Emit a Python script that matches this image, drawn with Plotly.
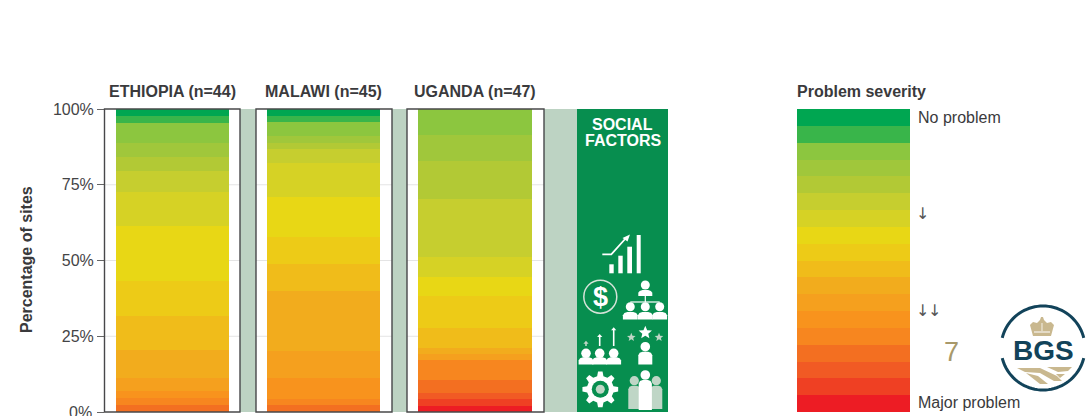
'''
    Stacked severity bars for social factors, with the severity scale and BGS logo.
'''

import math
import plotly.graph_objects as go

# Severity levels, from "No problem" down to "Major problem"
severity_colors = [
    "#00A651", "#39B54A", "#8CC63F", "#A0C73B", "#B2C935", "#C6CE2F",
    "#D6D225", "#E8D715", "#EDCB17", "#F0BC1A", "#F2AC1D", "#F5A01E",
    "#F8931D", "#F7861F", "#F36F21", "#F15A24", "#EF4023", "#ED1C24",
]

# Number of sites per severity level
ethiopia_counts = [1, 1, 3, 2, 2, 3, 5, 8, 5, 5, 4, 2, 1, 1, 1, 0, 0, 0]
malawi_counts = [1, 1, 2, 1, 1, 2, 5, 6, 4, 4, 9, 4, 3, 1, 1, 0, 0, 0]
uganda_counts = [0, 0, 4, 4, 6, 9, 3, 3, 5, 3, 1, 1, 0, 3, 2, 1, 1, 1]
scale_counts = [1] * 18

country_labels = ["ETHIOPIA (n=44)", "MALAWI (n=45)", "UGANDA (n=47)"]
y_ticks = [0, 25, 50, 75, 100]
y_tick_labels = ["0%", "25%", "50%", "75%", "100%"]

W, H = 1090, 416
TOP, BOTTOM = 109, 412
FONT = "Liberation Sans"
TEXT = "#3a3a3c"
SAGE = "#BDD3C3"
GREEN = "#078E4F"
PALE = "#BFD6C6"
NAVY = "#12435A"
TAN = "#C9B88F"


def px(x):
    return x / W


def py(y):
    return 1 - y / H


def path_of(points, close=True):
    '''
        Builds an SVG path in paper coordinates from points given in pixels.
    '''
    d = "M" + " L".join(f"{px(x):.5f},{py(y):.5f}" for x, y in points)
    return d + (" Z" if close else "")


def polygon(points, color):
    return dict(type="path", xref="paper", yref="paper", path=path_of(points),
                fillcolor=color, line_width=0, layer="above")


def stroke(points, color, width):
    return dict(type="path", xref="paper", yref="paper", path=path_of(points, False),
                line=dict(color=color, width=width), layer="above")


def circle(cx, cy, r, fill="rgba(0,0,0,0)", line_color=None, line_width=0):
    return dict(type="circle", xref="paper", yref="paper",
                x0=px(cx - r), x1=px(cx + r), y0=py(cy + r), y1=py(cy - r),
                fillcolor=fill, line=dict(color=line_color or fill, width=line_width),
                layer="above")


def rect(x0, x1, y0, y1, fill, layer="below", line=None):
    return dict(type="rect", xref="paper", yref="paper",
                x0=px(x0), x1=px(x1), y0=py(y1), y1=py(y0),
                fillcolor=fill, line=line or dict(width=0), layer=layer)


def person(cx, head_y, head_r, body_top, body_bottom, half_w, color="white"):
    '''
        A head and a round-shouldered body.
    '''
    shoulder = body_top + min(3.5, (body_bottom - body_top) * 0.45)
    body = [(cx - half_w, body_bottom), (cx - half_w, shoulder),
            (cx - half_w * 0.8, body_top + 1), (cx - half_w * 0.4, body_top),
            (cx + half_w * 0.4, body_top), (cx + half_w * 0.8, body_top + 1),
            (cx + half_w, shoulder), (cx + half_w, body_bottom)]
    return [circle(cx, head_y, head_r, color), polygon(body, color)]


def star(cx, cy, r, color):
    points = []
    for i in range(10):
        radius = r if i % 2 == 0 else r * 0.45
        angle = -math.pi / 2 + i * math.pi / 5
        points.append((cx + radius * math.cos(angle), cy + radius * math.sin(angle)))
    return polygon(points, color)


def gear(cx, cy, outer, inner, teeth=8):
    points = []
    for i in range(teeth):
        mid = 2 * math.pi * i / teeth - math.pi / 2
        step = 2 * math.pi / teeth
        for offset, radius in ((-0.30, inner), (-0.16, outer), (0.16, outer), (0.30, inner)):
            angle = mid + offset * step
            points.append((cx + radius * math.cos(angle), cy + radius * math.sin(angle)))
    return polygon(points, "white")


def arc(cx, cy, r, start, end, steps=40):
    '''
        Points along a circle, angles in degrees, counter-clockwise on screen.
    '''
    result = []
    for i in range(steps + 1):
        angle = math.radians(start + (end - start) * i / steps)
        result.append((cx + r * math.cos(angle), cy - r * math.sin(angle)))
    return result


def arrow_up(x, y0, y1, color="white"):
    return [stroke([(x, y0), (x, y1 + 2)], color, 1.6),
            polygon([(x - 2.6, y1 + 3), (x, y1), (x + 2.6, y1 + 3)], color)]


def icon_shapes():
    shapes = []
    # Growth chart
    for x0, x1, top in ((609.3, 613.7, 264.3), (618.3, 622.7, 255.7),
                        (627.3, 632, 246.7), (636.7, 640.7, 235)):
        shapes.append(rect(x0, x1, top, 273.3, "white", "above"))
    shapes.append(stroke([(602.3, 254.3), (611.3, 254.3), (626, 238)], "white", 1.8))
    shapes.append(polygon([(622.5, 238), (630, 234.5), (627.5, 241.5)], "white"))
    # Dollar
    shapes.append(circle(600.3, 296.7, 16.5, line_color="#D5E3D8", line_width=1.5))
    # Organisation chart
    shapes += person(645.3, 285, 4.5, 290, 296, 7)
    shapes.append(stroke([(645.3, 296), (645.3, 302)], "white", 1.2))
    shapes.append(stroke([(630.3, 302), (659.7, 302)], "white", 1.2))
    for x in (630.3, 645.3, 659.7):
        shapes += person(x, 306.7, 4.5, 312, 319.4, 7.4)
    # Rising people
    for x, top in ((586, 340.7), (599.7, 334), (613.7, 327.3)):
        shapes += person(x, 353.3, 4.8, 357.3, 364.5, 7.4)
        shapes += arrow_up(x, 346, top, "white" if x > 590 else PALE)
    # Star person
    shapes += person(645.3, 346.7, 4.8, 351.7, 364.5, 7)
    shapes.append(star(631.3, 337.3, 4.5, PALE))
    shapes.append(star(645.3, 332.7, 7, "white"))
    shapes.append(star(659, 337.3, 4.5, PALE))
    # Gear
    shapes.append(gear(600.3, 389.3, 18, 13.5))
    shapes.append(circle(600.3, 389.3, 8.5, GREEN))
    shapes.append(circle(600.3, 389.3, 4.5, PALE))
    # Group
    for x in (634.3, 656.3):
        shapes += person(x, 380.7, 4.6, 385.7, 409, 6, PALE)
    shapes += person(645.3, 375, 4.8, 380, 410, 6.6)
    return shapes


def logo_shapes():
    cx, cy, r = 1043, 348, 42
    shapes = [stroke(arc(cx, cy, r, 14, 166), NAVY, 3),
              stroke(arc(cx, cy, r, 194, 346), NAVY, 3)]
    # Crown
    shapes.append(polygon([(1033, 336), (1030, 325), (1033, 322), (1037, 323), (1040, 320),
                           (1041, 317), (1043, 317), (1044, 320), (1047, 323), (1051, 322),
                           (1054, 325), (1051, 336)], TAN))
    shapes.append(rect(1034, 1050, 331.5, 332.5, "white", "above"))
    shapes.append(stroke([(1042, 323), (1042, 331)], "white", 0.8))
    # Fields
    shapes.append(polygon([(1017, 368), (1040, 368), (1057, 376), (1062, 381), (1054, 381),
                           (1040, 373), (1025, 372)], TAN))
    shapes.append(polygon([(1047, 367), (1072, 367), (1068, 371), (1058, 372)], TAN))
    shapes.append(polygon([(1026, 373), (1038, 376), (1048, 384), (1040, 384)], TAN))
    shapes.append(polygon([(1056, 374), (1065, 374), (1060, 378)], TAN))
    return shapes


def add_label(fig, x, y, text, size=16, color=TEXT, bold=False, anchor="left", angle=0,
              family=FONT):
    fig.add_annotation(
        xref="paper", yref="paper", x=px(x), y=py(y),
        text=f"<b>{text}</b>" if bold else text,
        showarrow=False, xanchor=anchor, yanchor="middle", textangle=angle,
        align="center", font=dict(family=family, size=size, color=color),
        borderpad=0, borderwidth=0,
    )


# Bar centres and widths on the pixel-wide x axis
bar_x = [172.5, 323.5, 475, 853.5]
bar_w = [113, 113, 114, 113]

fig = go.Figure()

# Stack from the bottom up, so the most severe level goes first
for i in range(17, -1, -1):
    fig.add_trace(go.Bar(
        x=bar_x,
        y=[ethiopia_counts[i], malawi_counts[i], uganda_counts[i], scale_counts[i]],
        width=bar_w,
        marker=dict(color=severity_colors[i], line_width=0),
        showlegend=False,
        hoverinfo="skip",
    ))

shapes = [rect(229, 577, TOP, BOTTOM, SAGE), rect(577, 668, TOP, BOTTOM, GREEN)]
box_edges = [(104.5, 240), (256, 392), (407, 544)]
for x0, x1 in box_edges:
    shapes.append(rect(x0, x1, TOP, BOTTOM, "white"))
    for tick in y_ticks[1:-1]:
        y = BOTTOM - (BOTTOM - TOP) * tick / 100
        shapes.append(dict(type="line", xref="paper", yref="paper", x0=px(x0), x1=px(x1),
                           y0=py(y), y1=py(y), line=dict(color="#E4E4E4", width=1),
                           layer="below"))
for x0, x1 in box_edges:
    shapes.append(rect(x0, x1, TOP, BOTTOM, "rgba(0,0,0,0)", "above",
                       dict(color="#48484a", width=1.4)))
shapes += icon_shapes()
shapes += logo_shapes()

fig.update_layout(
    width=W,
    height=H,
    margin=dict(l=0, r=0, t=0, b=0),
    paper_bgcolor="white",
    plot_bgcolor="rgba(0,0,0,0)",
    barmode="stack",
    barnorm="percent",
    bargap=0,
    shapes=shapes,
    xaxis=dict(range=[0, W], domain=[0, 1], visible=False, fixedrange=True),
    yaxis=dict(
        range=[0, 100],
        domain=[py(BOTTOM), py(TOP)],
        anchor="free",
        position=px(104),
        tickvals=y_ticks,
        ticktext=[""] + y_tick_labels[1:],
        ticks="outside",
        ticklen=7,
        tickcolor="#666666",
        tickfont=dict(family=FONT, size=16, color="#444446"),
        showgrid=False,
        showline=False,
        zeroline=False,
        automargin=False,
        fixedrange=True,
    ),
)

for label, x in zip(country_labels, (172.5, 323.5, 475)):
    add_label(fig, x, 91, label, bold=True, anchor="center")
add_label(fig, 26, 260, "Percentage of sites", bold=True, anchor="center", angle=-90)
add_label(fig, 92, 412, y_tick_labels[0], color="#444446", anchor="right")
add_label(fig, 622.5, 124, "SOCIAL", color="white", bold=True, anchor="center")
add_label(fig, 622.5, 140, "FACTORS", color="white", bold=True, anchor="center")
add_label(fig, 600.3, 297, "$", size=27, color="white", bold=True, anchor="center")
add_label(fig, 797, 91, "Problem severity", bold=True)
add_label(fig, 918, 117, "No problem")
add_label(fig, 918, 402, "Major problem")
add_label(fig, 916, 214, "↓", size=16, color="#555555", family="DejaVu Sans")
add_label(fig, 916, 310, "↓", size=16, color="#555555", family="DejaVu Sans")
add_label(fig, 928, 310, "↓", size=16, color="#555555", family="DejaVu Sans")
add_label(fig, 951, 352, "7", size=27, color="#A8996A", anchor="center")
add_label(fig, 1043, 350, "BGS", size=28, color=NAVY, bold=True, anchor="center")

fig.write_html(
    "out.html",
    config={"displayModeBar": False},
    post_script="document.body.style.margin='0';document.documentElement.style.overflow='hidden';",
)
